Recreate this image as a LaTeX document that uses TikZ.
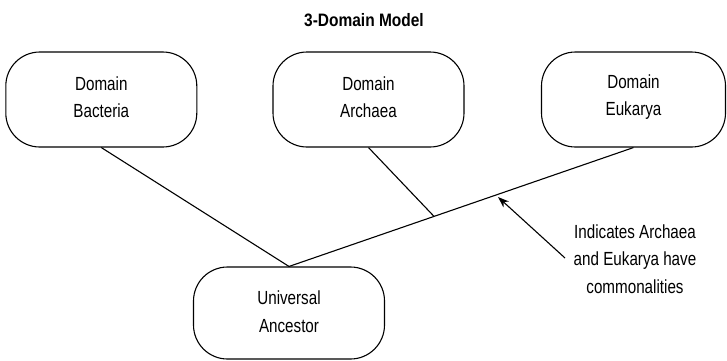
\documentclass[tikz,border=0pt]{standalone}
\usepackage{fontspec}
\setmainfont{Liberation Sans}[FakeStretch=0.8]
\newfontfamily\titlefont{Liberation Sans}[FakeStretch=0.86]
\usetikzlibrary{arrows.meta}
\begin{document}
\begin{tikzpicture}[x=1pt,y=-1pt,
  domainbox/.style={draw, line width=1.1pt, rounded corners=34pt, minimum width=191pt, minimum height=95pt, inner sep=0pt},
  label/.style={font=\fontsize{19}{27.5}\selectfont, align=center},
  link/.style={line width=1.1pt},
  pointer/.style={line width=1.1pt, -{Stealth[length=11pt,width=8pt]}}]
\useasboundingbox (0,0) rectangle (727,360);
\node[font=\titlefont\bfseries\fontsize{18}{20}\selectfont] (title) at (364,20) {3-Domain Model};
\node[domainbox] (bac) at (101.3,99.5) {};
\node[domainbox] (arc) at (368.5,99.5) {};
\node[domainbox, minimum width=184pt] (euk) at (633.5,99.5) {};
\node[domainbox, minimum height=92pt] (uni) at (289,313) {};
\node[label] (bact) at (101.3,97) {Domain\\Bacteria};
\node[label] (arct) at (368.5,97) {Domain\\Archaea};
\node[label] (eukt) at (633.5,97) {Domain\\Eukarya};
\node[label] (unit) at (289,311.5) {Universal\\Ancestor};
\node[label] (note) at (635,259) {Indicates Archaea\\and Eukarya have\\commonalities};
\draw[link] (bac.south) -- (uni.north);
\draw[link] (euk.south) -- (uni.north) coordinate[pos=0.579] (join) coordinate[pos=0.395] (hit);
\draw[link] (arc.south) -- (join);
\coordinate (tail) at (565,258);
\draw[pointer] (tail) -- ([shift={(0.6,2.5)}]hit);
\end{tikzpicture}
\end{document}
